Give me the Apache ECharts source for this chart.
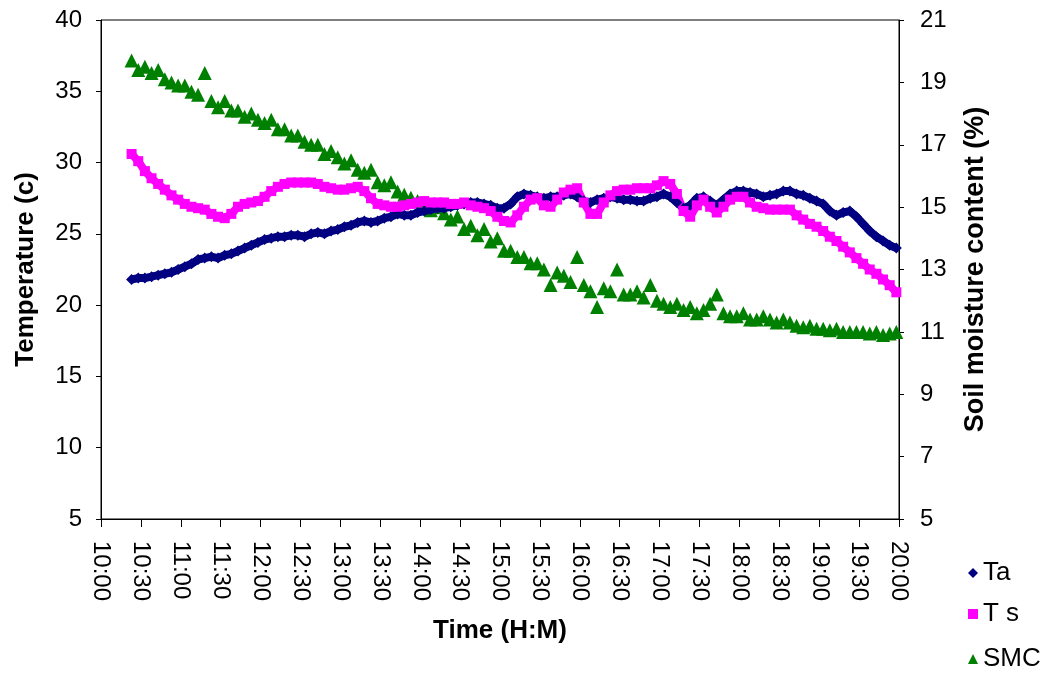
<!DOCTYPE html>
<html>
<head>
<meta charset="utf-8">
<script src="https://cdn.jsdelivr.net/npm/echarts@6/dist/echarts.min.js"></script>
<style>
html,body{margin:0;padding:0;background:#fff;}
#chart{width:1050px;height:675px;}
</style>
</head>
<body>
<div id="chart"></div>
<script>
// Sampling: minutes after 10:00 of first reading, and spacing (minutes)
const START_MIN = 23;
const STEP_MIN = 5;

const timeLabels = ['10:00','10:30','11:00','11:30','12:00','12:30','13:00','13:30','14:00','14:30','15:00',
  '15:30','16:00','16:30','17:00','17:30','18:00','18:30','19:00','19:30','20:00'];

const tempTicks = [5,10,15,20,25,30,35,40];
const smcTicks = [5,7,9,11,13,15,17,19,21];
const seriesNames = ['Ta','T s','SMC'];

// Air temperature (°C)
const Ta = [
21.8,21.9,21.9,22.0,22.1,22.2,22.3,22.5,22.7,22.9,
23.2,23.3,23.4,23.3,23.5,23.6,23.8,24.0,24.2,24.4,
24.6,24.7,24.8,24.8,24.9,24.9,24.8,25.0,25.1,25.0,
25.2,25.3,25.5,25.6,25.8,25.9,25.8,25.9,26.1,26.2,
26.4,26.3,26.3,26.5,26.6,26.7,26.8,26.8,26.9,27.0,
27.1,27.2,27.2,27.1,27.0,26.8,26.8,27.1,27.6,27.8,
27.7,27.6,27.5,27.6,27.6,27.7,27.8,27.6,27.3,27.2,
27.4,27.5,27.6,27.5,27.4,27.4,27.3,27.3,27.5,27.6,
27.8,27.6,27.2,26.8,27.0,27.5,27.6,27.3,27.0,27.4,
27.8,28.0,28.0,27.9,27.8,27.6,27.7,27.8,28.0,28.0,
27.8,27.7,27.5,27.3,27.1,26.6,26.3,26.5,26.6,26.2,
25.7,25.2,24.8,24.5,24.2,24.0
];

// Soil temperature (°C)
const Ts = [
30.6,30.1,29.4,28.9,28.5,28.1,27.7,27.4,27.1,26.9,
26.8,26.7,26.4,26.2,26.1,26.4,26.9,27.1,27.2,27.3,
27.6,28.0,28.3,28.5,28.6,28.6,28.6,28.6,28.5,28.3,
28.2,28.1,28.1,28.2,28.3,28.0,27.5,27.1,27.0,26.9,
26.9,27.0,27.1,27.2,27.3,27.2,27.2,27.2,27.1,27.1,
27.2,27.0,26.9,26.8,26.6,26.2,25.9,25.8,26.3,26.9,
27.4,27.5,27.0,26.9,27.4,27.9,28.1,28.2,27.2,26.4,
26.4,27.2,27.7,28.0,28.1,28.1,28.2,28.2,28.2,28.4,
28.7,28.5,27.8,26.6,26.2,27.0,27.4,26.9,26.5,26.9,
27.4,27.6,27.6,27.2,26.9,26.8,26.7,26.7,26.7,26.7,
26.3,26.0,25.7,25.5,25.2,24.8,24.5,24.1,23.7,23.3,
22.9,22.5,22.2,21.8,21.4,20.9
];

// Soil moisture content (%)
const SMC = [
19.7,19.4,19.5,19.3,19.4,19.1,19.0,18.9,18.9,18.7,
18.6,19.3,18.4,18.2,18.4,18.1,18.1,17.9,18.0,17.8,
17.7,17.8,17.5,17.5,17.3,17.3,17.1,17.0,17.0,16.7,
16.8,16.6,16.4,16.5,16.2,16.1,16.2,15.8,15.7,15.8,
15.5,15.4,15.3,15.2,15.1,14.9,15.0,14.8,14.6,14.7,
14.3,14.4,14.1,14.3,13.9,14.0,13.6,13.6,13.4,13.4,
13.2,13.2,13.0,12.5,12.9,12.8,12.6,13.4,12.5,12.3,
11.8,12.4,12.3,13.0,12.2,12.2,12.3,12.1,12.5,12.0,
11.9,11.8,11.9,11.7,11.8,11.6,11.7,11.9,12.2,11.6,
11.5,11.5,11.6,11.4,11.4,11.5,11.4,11.3,11.4,11.3,
11.2,11.15,11.2,11.1,11.1,11.05,11.1,11.0,11.0,11.0,
11.0,10.95,11.0,10.9,10.95,11.0
];

function pairs(arr){ return arr.map((v,i)=>[START_MIN + i*STEP_MIN, v]); }

const FONT = '"Liberation Sans", Arial, sans-serif';
const nameStyle = {fontFamily:FONT,fontSize:26,fontWeight:'bold',color:'#000'};
const icons = ['diamond','rect','triangle'];
const legendTops = [555, 596, 641];
const legends = seriesNames.map((n,i)=>({
  orient:'vertical', left:963, top:legendTops[i], itemWidth:10, itemHeight:10,
  textStyle:{fontFamily:FONT,fontSize:26,color:'#000'},
  data:[{name:n,icon:icons[i]}]
}));

const chart = echarts.init(document.getElementById('chart'), null, {renderer:'canvas'});
chart.setOption({
  animation:false,
  backgroundColor:'#fff',
  textStyle:{fontFamily:FONT},
  grid:{left:101,right:151,top:20,bottom:156,show:true,borderColor:'#000',borderWidth:1,backgroundColor:'transparent'},
  legend:legends,
  xAxis:{
    type:'value', min:0, max:600, interval:30,
    name:'Time (H:M)', nameLocation:'middle', nameGap:99,
    nameTextStyle:nameStyle,
    axisLine:{lineStyle:{color:'#000',width:1}},
    axisTick:{length:8,lineStyle:{color:'#000'}},
    axisLabel:{rotate:-90,margin:22,fontSize:24,color:'#000',fontFamily:FONT,
      formatter:v=>timeLabels[Math.round(v/30)]},
    splitLine:{show:false}
  },
  yAxis:[{
    type:'value', min:tempTicks[0], max:tempTicks[tempTicks.length-1], interval:5,
    name:'Temperature (c)', nameLocation:'middle', nameGap:62, nameRotate:90,
    nameTextStyle:nameStyle,
    axisLine:{show:true,lineStyle:{color:'#000'}},
    axisTick:{show:true,length:5,lineStyle:{color:'#000'}},
    axisLabel:{fontSize:24,color:'#000',margin:19,fontFamily:FONT},
    splitLine:{show:false}
  },{
    type:'value', min:smcTicks[0], max:smcTicks[smcTicks.length-1], interval:2, position:'right',
    name:'Soil moisture content (%)', nameLocation:'middle', nameGap:63, nameRotate:90,
    nameTextStyle:Object.assign({}, nameStyle, {fontSize:27}),
    axisLine:{show:true,lineStyle:{color:'#000'}},
    axisTick:{show:true,length:5,lineStyle:{color:'#000'}},
    axisLabel:{fontSize:24,color:'#000',margin:21,fontFamily:FONT},
    splitLine:{show:false}
  }],
  series:[
    {name:'Ta',type:'line',yAxisIndex:0,symbol:'diamond',symbolSize:11,showSymbol:true,
     lineStyle:{color:'#000080',width:8},itemStyle:{color:'#000080',opacity:1},data:pairs(Ta)},
    {name:'T s',type:'line',yAxisIndex:0,symbol:'rect',symbolSize:10,showSymbol:true,
     lineStyle:{color:'#FF00FF',width:8},itemStyle:{color:'#FF00FF',opacity:1},data:pairs(Ts)},
    {name:'SMC',type:'scatter',yAxisIndex:1,symbol:'triangle',symbolSize:14,
     itemStyle:{color:'#008000',opacity:1},data:pairs(SMC)}
  ]
});
</script>
</body>
</html>
